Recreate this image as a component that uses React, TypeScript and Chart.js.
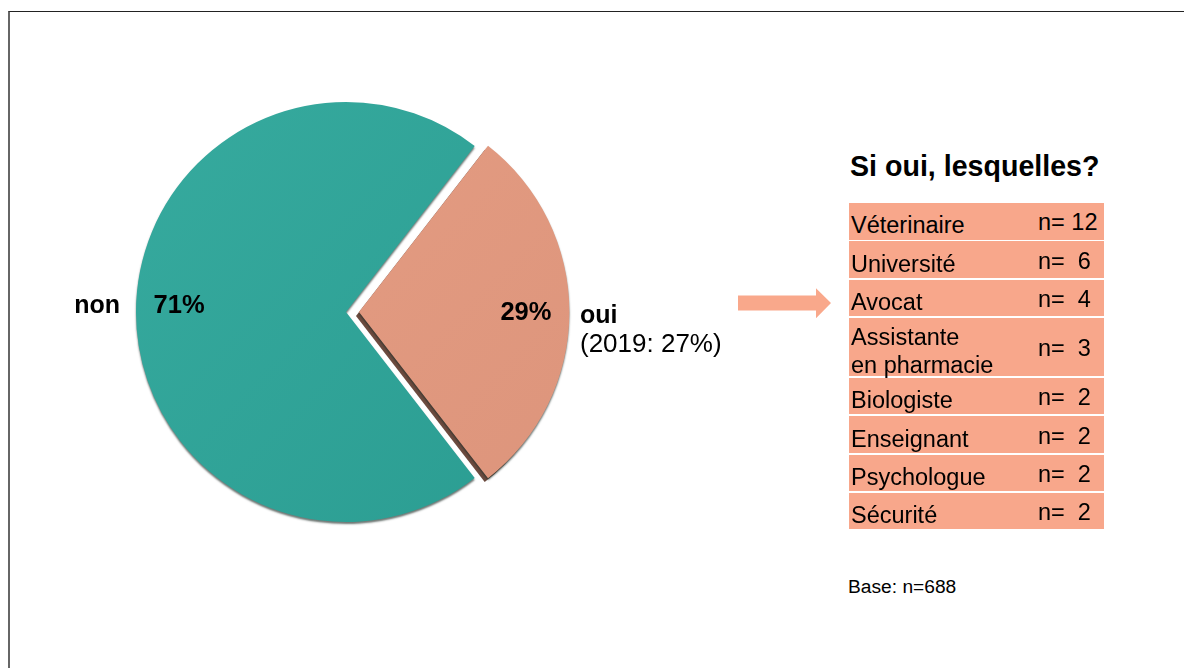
import React, { useEffect, useRef } from "react";
import { Chart, registerables } from "chart.js";

Chart.register(...registerables);

// ---- data ----
const categories = ["non", "oui"];
const shares = [71, 29];
const shareLabels = ["71%", "29%"];
const subLabels = ["", "(2019: 27%)"];
const professions = [
  "Véterinaire",
  "Université",
  "Avocat",
  "Assistante\nen pharmacie",
  "Biologiste",
  "Enseignant",
  "Psychologue",
  "Sécurité",
];
const counts = [12, 6, 4, 3, 2, 2, 2, 2];
const title = "Si oui, lesquelles?";
const baseNote = "Base: n=688";

// ---- style ----
const FONT = "'Liberation Sans', Arial, Helvetica, sans-serif";
const TEAL_A = "#37ab9f";
const TEAL_B = "#2a9c91";
const SALMON_A = "#e69e84";
const SALMON_B = "#dc947b";
const TABLE_BG = "#f8a78b";
const innerDy = [1, 8];
const outerDy = [1, 11];
const outerGap = [16, 11];

const decorPlugin = {
  id: "pieDecor",
  beforeDatasetsDraw(chart: any) {
    const ctx = chart.ctx;
    const meta = chart.getDatasetMeta(0);
    meta.data.forEach((arc: any) => {
      const off = (arc.options.offset || 0) / 4;
      if (!off) return;
      const p = arc.getProps(["x", "y", "startAngle", "endAngle", "outerRadius"], true);
      const mid = (p.startAngle + p.endAngle) / 2;
      const cx = p.x + Math.cos(mid) * off - 3;
      const cy = p.y + Math.sin(mid) * off + 4;
      ctx.save();
      ctx.fillStyle = "#6b4a3e";
      ctx.beginPath();
      ctx.moveTo(cx, cy);
      ctx.arc(cx, cy, p.outerRadius, p.startAngle, p.endAngle);
      ctx.closePath();
      ctx.fill();
      ctx.restore();
    });
    ctx.save();
    ctx.shadowColor = "rgba(30,45,40,0.65)";
    ctx.shadowOffsetX = 0;
    ctx.shadowOffsetY = 2;
    ctx.shadowBlur = 2;
  },
  afterDatasetsDraw(chart: any) {
    const ctx = chart.ctx;
    ctx.restore();
    const meta = chart.getDatasetMeta(0);
    meta.data.forEach((arc: any, i: number) => {
      const off = (arc.options.offset || 0) / 4;
      const p = arc.getProps(["x", "y", "startAngle", "endAngle", "outerRadius"], true);
      const mid = (p.startAngle + p.endAngle) / 2;
      const c = Math.cos(mid);
      const s = Math.sin(mid);
      const bx = p.x + c * off;
      const by = p.y + s * off;
      ctx.save();
      ctx.fillStyle = "#000";
      ctx.textBaseline = "alphabetic";
      ctx.font = `bold 25.5px ${FONT}`;
      ctx.textAlign = "center";
      ctx.fillText(shareLabels[i], bx + c * p.outerRadius * 0.795, by + s * p.outerRadius * 0.795 + innerDy[i]);
      const ox = bx + c * (p.outerRadius + outerGap[i]);
      const oy = by + s * (p.outerRadius + outerGap[i]) + outerDy[i];
      ctx.textAlign = c < 0 ? "right" : "left";
      ctx.font = `bold 25px ${FONT}`;
      ctx.fillText(categories[i], ox, oy);
      if (subLabels[i]) {
        ctx.font = `26px ${FONT}`;
        ctx.fillText(subLabels[i], ox, oy + 29);
      }
      ctx.restore();
    });
  },
};

function PieChart() {
  const ref = useRef<HTMLCanvasElement>(null);
  useEffect(() => {
    const canvas = ref.current!;
    const chart = new Chart(canvas, {
      type: "pie",
      data: {
        labels: categories,
        datasets: [
          {
            data: shares,
            backgroundColor: (ctx: any) => {
              const ch = ctx.chart;
              const area = ch.chartArea;
              if (!area) return ctx.dataIndex === 0 ? TEAL_B : SALMON_B;
              const g = ch.ctx.createLinearGradient(area.left + 100, area.top + 80, area.right - 100, area.bottom - 80);
              if (ctx.dataIndex === 0) {
                g.addColorStop(0, TEAL_A);
                g.addColorStop(1, TEAL_B);
              } else {
                g.addColorStop(0, SALMON_A);
                g.addColorStop(1, SALMON_B);
              }
              return g;
            },
            borderWidth: 0,
            offset: [0, 52],
          },
        ],
      },
      options: {
        animation: false,
        responsive: false,
        rotation: 142.2,
        radius: 210,
        layout: { padding: { left: 0, right: 68, top: 0, bottom: 0 } },
        plugins: {
          legend: { display: false },
          tooltip: { enabled: false },
        },
      },
      plugins: [decorPlugin],
    });
    return () => chart.destroy();
  }, []);
  return (
    <canvas
      ref={ref}
      width={760}
      height={624}
      style={{ position: "absolute", left: 0, top: 0, width: 760, height: 624 }}
    />
  );
}

export default function App() {
  const rowH = (p: string) => (p.includes("\n") ? 58.3 : 36.5);
  return (
    <div
      style={{
        position: "absolute",
        left: 0,
        top: 0,
        width: 1184,
        height: 668,
        overflow: "hidden",
        background: "#fff",
        fontFamily: FONT,
        color: "#000",
      }}
    >
      <div
        style={{
          position: "absolute",
          left: 8,
          top: 11,
          width: 1300,
          height: 800,
          borderTop: "1px solid #222",
          borderLeft: "2px solid #666",
        }}
      />
      <PieChart />
      <svg
        width={100}
        height={40}
        style={{ position: "absolute", left: 734, top: 284 }}
        viewBox="734 284 100 40"
      >
        <polygon
          points="738,295.5 816,295.5 816,288.3 831,303 816,318.3 816,310.5 738,310.5"
          fill="#f9a88b"
        />
      </svg>
      <div
        style={{
          position: "absolute",
          left: 850,
          top: 152,
          fontSize: 28.6,
          lineHeight: "28.6px",
          fontWeight: "bold",
          whiteSpace: "nowrap",
        }}
      >
        {title}
      </div>
      <div
        style={{
          position: "absolute",
          left: 849,
          top: 203,
          width: 255,
          display: "flex",
          flexDirection: "column",
          gap: 1.8,
        }}
      >
        {professions.map((p, i) => (
          <div
            key={i}
            style={{
              position: "relative",
              height: rowH(p),
              background: TABLE_BG,
              fontSize: 23.5,
            }}
          >
            <div
              style={{
                position: "absolute",
                left: 2,
                top: "50%",
                transform: `translateY(calc(-50% + 5px))`,
                lineHeight: "27.7px",
                whiteSpace: "pre",
              }}
            >
              {p}
            </div>
            <div
              style={{
                position: "absolute",
                left: 189,
                top: "50%",
                transform: `translateY(calc(-50% + 1.4px))`,
                lineHeight: "27.7px",
                whiteSpace: "pre",
              }}
            >
              {counts[i] >= 10 ? `n= ${counts[i]}` : `n=  ${counts[i]}`}
            </div>
          </div>
        ))}
      </div>
      <div
        style={{
          position: "absolute",
          left: 848,
          top: 577,
          fontSize: 19.2,
          lineHeight: "19.2px",
          whiteSpace: "nowrap",
        }}
      >
        {baseNote}
      </div>
    </div>
  );
}
